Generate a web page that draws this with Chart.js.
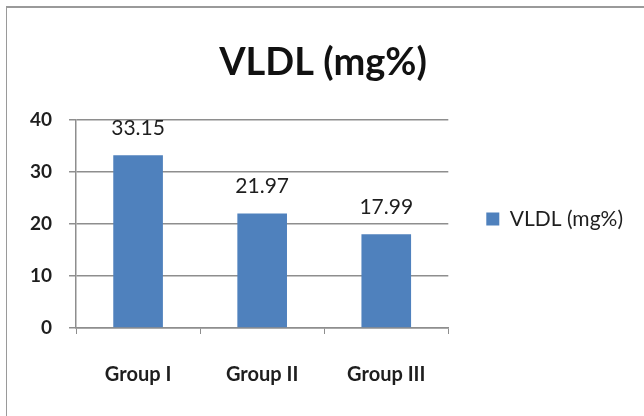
<!DOCTYPE html>
<html>
<head>
<meta charset="utf-8">
<script src="https://cdn.jsdelivr.net/npm/chart.js@4"></script>
<style>
    html, body { margin: 0; padding: 0; background: #fff; }
    #wrap { position: relative; width: 644px; height: 416px; overflow: hidden; }
    #frame { position: absolute; left: 6px; top: 6px; width: 700px; height: 500px;
             border-left: 1px solid #9a9a9a; border-top: 2px solid #9a9a9a; }
    #chart { position: absolute; left: 0; top: 0; }
</style>
</head>
<body>
<div id="wrap">
    <div id="frame"></div>
    <canvas id="chart" width="644" height="416"></canvas>
</div>
<script>
// chart data
const categories = ['Group I', 'Group II', 'Group III'];
const seriesName = 'VLDL (mg%)';
const vldlValues = [33.15, 21.97, 17.99];
const yTicks = [0, 10, 20, 30, 40];

const barColor = '#4F81BD';
const gridColor = '#8e8e8e';
const textColor = '#1e1e1e';
const fontFamily = 'Lato, "Open Sans", sans-serif';

// Draw the value above each bar
const valueLabels = {
    id: 'valueLabels',
    afterDatasetsDraw: (chart) => {
        const ctx = chart.ctx;
        const meta = chart.getDatasetMeta(0);
        ctx.save();
        ctx.font = '21px ' + fontFamily;
        ctx.fillStyle = textColor;
        ctx.textAlign = 'center';
        ctx.textBaseline = 'middle';
        meta.data.forEach((bar, i) => {
            ctx.fillText(vldlValues[i].toFixed(2), bar.x, bar.y - 27);
        });
        ctx.restore();
    }
};

new Chart(document.getElementById('chart'), {
    type: 'bar',
    data: {
        labels: categories,
        datasets: [{
            label: seriesName,
            data: vldlValues,
            backgroundColor: barColor,
            borderWidth: 0,
            categoryPercentage: 1,
            barPercentage: 0.4
        }]
    },
    options: {
        responsive: false,
        animation: false,
        layout: { padding: { top: 22, left: 13, right: 11, bottom: 0 } },
        scales: {
            x: {
                grid: { display: true, offset: true, drawOnChartArea: false, color: gridColor, tickLength: 6 },
                border: { color: gridColor, width: 1.5 },
                ticks: { color: textColor, padding: 29, font: { family: fontFamily, size: 20, weight: 'bold' } }
            },
            y: {
                min: 0,
                max: 40,
                afterBuildTicks: (axis) => { axis.ticks = yTicks.map(v => ({ value: v })); },
                grid: { color: gridColor, lineWidth: 1.5, tickLength: 7 },
                border: { color: gridColor, width: 1.5 },
                ticks: { color: textColor, padding: 17, font: { family: fontFamily, size: 19, weight: 'bold' } }
            }
        },
        plugins: {
            title: {
                display: true,
                text: 'VLDL (mg%)',
                color: '#111',
                font: { family: fontFamily, size: 38, weight: 'bold' },
                padding: { top: 18, bottom: 34 }
            },
            legend: {
                position: 'right',
                maxWidth: 220,
                labels: {
                    color: textColor,
                    boxWidth: 13,
                    boxHeight: 13,
                    padding: 38,
                    font: { family: fontFamily, size: 21 }
                }
            },
            tooltip: { enabled: false }
        }
    },
    plugins: [valueLabels]
});
</script>
</body>
</html>
